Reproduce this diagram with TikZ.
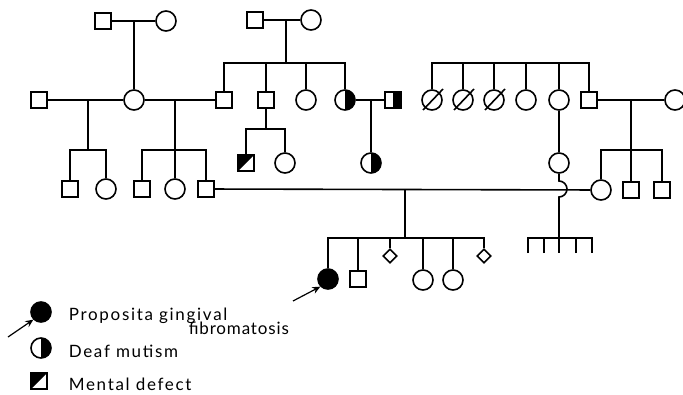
\documentclass[tikz,border=0pt]{standalone}
\usepackage{fontspec}
\setmainfont{Lato}[LetterSpace=10]
\newfontfamily\fibfont{Lato}[LetterSpace=5]
\usetikzlibrary{arrows.meta,calc,shapes.geometric}
\begin{document}
\begin{tikzpicture}[x=1pt,y=-1pt,
 line width=1.6pt,
 male/.style={draw,rectangle,minimum size=16pt,inner sep=0pt,fill=white},
 female/.style={draw,circle,minimum size=20pt,inner sep=0pt,fill=white},
 unk/.style={draw,diamond,minimum size=14pt,inner sep=0pt,fill=white},
 halfright/.style={path picture={\fill[black] (path picture bounding box.north) rectangle (path picture bounding box.south east);}},
 mental/.style={path picture={\fill[black] (path picture bounding box.north west) -- (path picture bounding box.north east) -- (path picture bounding box.south west) -- cycle;}},
 affected/.style={fill=black},
 legend/.style={anchor=base west,inner sep=0pt,font=\fontsize{17}{17}\selectfont},
 arr/.style={-{Stealth[length=8pt,width=7pt]},line width=1.2pt}
]
\useasboundingbox (0,0) rectangle (683,394);
% generation 1
\node[male] (g1m) at (103,21) {};
\node[female] (g1f) at (166,21) {};
\node[male] (g2m) at (255,20) {};
\node[female] (g2f) at (311,20) {};
% generation 2
\node[male] (a1) at (39,100) {};
\node[female] (a2) at (134,100) {};
\node[male] (a3) at (224,100) {};
\node[male] (a4) at (266,100) {};
\node[female] (a5) at (306,100) {};
\node[female,halfright] (a6) at (345,100) {};
\node[male,halfright] (a7) at (393,100) {};
\node[female] (b1) at (432,100) {};
\node[female] (b2) at (463,100) {};
\node[female] (b3) at (494,100) {};
\node[female] (b4) at (526,100) {};
\node[female] (b5) at (559,100) {};
\node[male] (b6) at (589,100) {};
\node[female] (b7) at (675,100) {};
% generation 3
\node[male] (c1) at (70,189) {};
\node[female] (c2) at (106,189) {};
\node[male] (c3) at (142,189) {};
\node[female] (c4) at (175,189) {};
\node[male] (c5) at (206,189) {};
\node[male,mental] (c6) at (246,163) {};
\node[female] (c7) at (285,163) {};
\node[female,halfright] (c8) at (371,163) {};
\node[female] (c9) at (559,163) {};
\node[female] (c10) at (601,190) {};
\node[male] (c11) at (631,190) {};
\node[male] (c12) at (662,190) {};
% generation 4
\node[female,affected] (d1) at (328,279) {};
\node[male] (d2) at (358,279) {};
\node[unk] (d3) at (390,256) {};
\node[female] (d4) at (423,280) {};
\node[female] (d5) at (453,280) {};
\node[unk] (d6) at (484,256) {};
% coordinates
\coordinate (m1) at (134,21);
\coordinate (m2) at (286,20);
\coordinate (s2) at (286,63);
\coordinate (m3) at (88,100);
\coordinate (s3) at (88,150);
\coordinate (m4) at (175,100);
\coordinate (s4) at (175,150);
\coordinate (s5) at (266,129);
\coordinate (m6) at (371,100);
\coordinate (s6) at (500,63);
\coordinate (m7) at (631,100);
\coordinate (s7) at (631,150);
\coordinate (m8) at (405,189);
\coordinate (s8) at (405,238);
\coordinate (hop) at (559,189);
\coordinate (s9) at (559,238);
\coordinate (t1) at (528,253);
\coordinate (t2) at (544,253);
\coordinate (t3) at (559,253);
\coordinate (t4) at (576,253);
\coordinate (t5) at (592,253);
\coordinate (ar1) at (293,301);
% connectors
\draw (g1m) -- (g1f);
\draw (m1) -- (a2);
\draw (g2m) -- (g2f);
\draw (m2) -- (s2);
\draw (a3.north) |- (s2) -| (a6.north);
\draw (a4.north) -- (a4.north |- s2);
\draw (a5.north) -- (a5.north |- s2);
\draw (a1) -- (a2);
\draw (m3) -- (s3);
\draw (c1.north) |- (s3) -| (c2.north);
\draw (a2) -- (a3);
\draw (m4) -- (s4);
\draw (c3.north) |- (s4) -| (c5.north);
\draw (c4.north) -- (s4);
\draw (a4.south) -- (s5);
\draw (c6.north) |- (s5) -| (c7.north);
\draw (a6) -- (a7);
\draw (m6) -- (c8);
\draw (b1.north) |- (s6) -| (b6.north);
\foreach \n in {b2,b3,b4,b5} \draw (\n.north) -- (\n.north |- s6);
\foreach \n in {b1,b2,b3} \draw ($(\n)+(-9,10)$) -- ($(\n)+(11,-11)$);
\draw (b5) -- (c9);
\draw (b6) -- (b7);
\draw (m7) -- (s7);
\draw (c10.north) |- (s7) -| (c12.north);
\draw (c11.north) -- (s7);
\draw (c5) -- (c10);
\draw (m8) -- (s8);
\draw (d1.north) |- (s8) -| (d6.north);
\foreach \n in {d2,d3,d4,d5} \draw (\n.north) -- (\n.north |- s8);
\draw (c9.south) -- ($(hop)+(0,-8)$) arc[start angle=-90,end angle=90,radius=8] -- (s9);
\draw (t1) |- (s9) -| (t5);
\draw (t2) -- (t2 |- s9);
\draw (t4) -- (t4 |- s9);
\draw (s9) -- (t3);
\draw[arr] (ar1) -- (d1.south west);
% legend
\node[female,affected] (L1) at (41,312) {};
\coordinate (ar2) at (8,337);
\draw[arr] (ar2) -- (L1.south west);
\node[female,halfright] (L2) at (41,348) {};
\node[male,mental] (L3) at (39,381) {};
\node[legend] (T1) at (68,320) {Proposita gingival};
\node[legend,font=\fibfont\fontsize{17}{17}\selectfont] (T1b) at (188,334) {fibromatosis};
\node[legend] (T2) at (68,357) {Deaf mutism};
\node[legend] (T3) at (68,390) {Mental defect};
\end{tikzpicture}
\end{document}
